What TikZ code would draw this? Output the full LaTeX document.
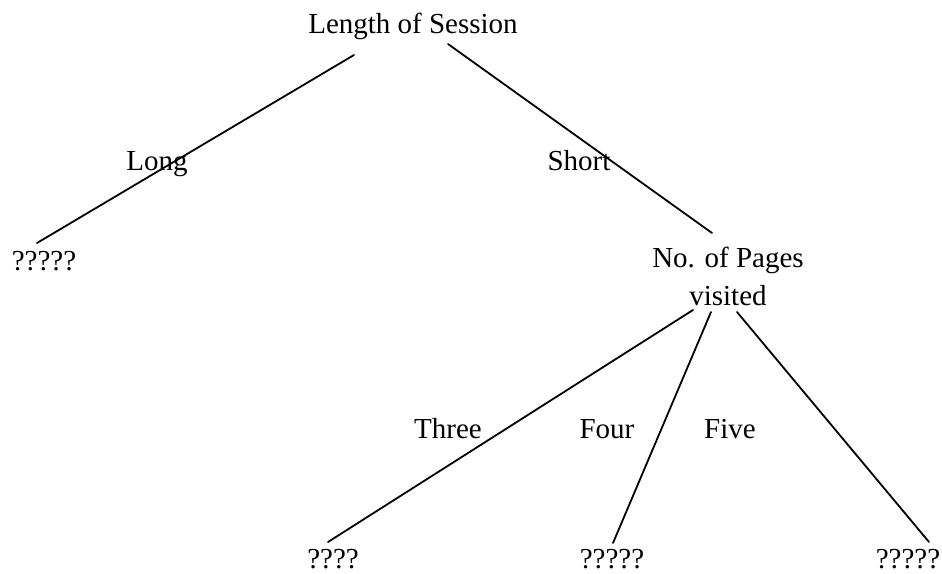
\documentclass[tikz,border=0pt]{standalone}
\usepackage{fontspec}
\setmainfont{Liberation Serif}
\begin{document}
\begin{tikzpicture}[x=1pt,y=1pt,
  lbl/.style={inner sep=0pt,anchor=base,font=\fontsize{29}{38}\selectfont,align=center},
  edge/.style={line width=1.8pt,line cap=round}]
\useasboundingbox (0,0) rectangle (942,-573);
\node[lbl] (root) at (413,-33) {Length of Session};
\node[lbl] (long) at (157,-170) {Long};
\node[lbl] (short) at (579,-170) {Short};
\node[lbl] (q1) at (44,-270) {?????};
\node[lbl] (pages) at (728,-305) {No. of Pages\\visited};
\node[lbl] (three) at (448,-438) {Three};
\node[lbl] (four) at (607,-438) {Four};
\node[lbl] (five) at (730,-438) {Five};
\node[lbl] (q2) at (333,-568) {????};
\node[lbl] (q3) at (612,-568) {?????};
\node[lbl] (q4) at (908,-568) {?????};
\coordinate (rootL) at (354,-55);
\coordinate (rootR) at (448,-44);
\coordinate (q1T) at (37,-243);
\coordinate (pagesT) at (712,-233);
\coordinate (pagesL) at (693,-310);
\coordinate (pagesM) at (711,-312);
\coordinate (pagesR) at (737,-312);
\coordinate (q2T) at (328,-542);
\coordinate (q3T) at (613,-543);
\coordinate (q4T) at (929,-542);
\draw[edge] (rootL) -- (q1T);
\draw[edge] (rootR) -- (pagesT);
\draw[edge] (pagesL) -- (q2T);
\draw[edge] (pagesM) -- (q3T);
\draw[edge] (pagesR) -- (q4T);
\end{tikzpicture}
\end{document}
